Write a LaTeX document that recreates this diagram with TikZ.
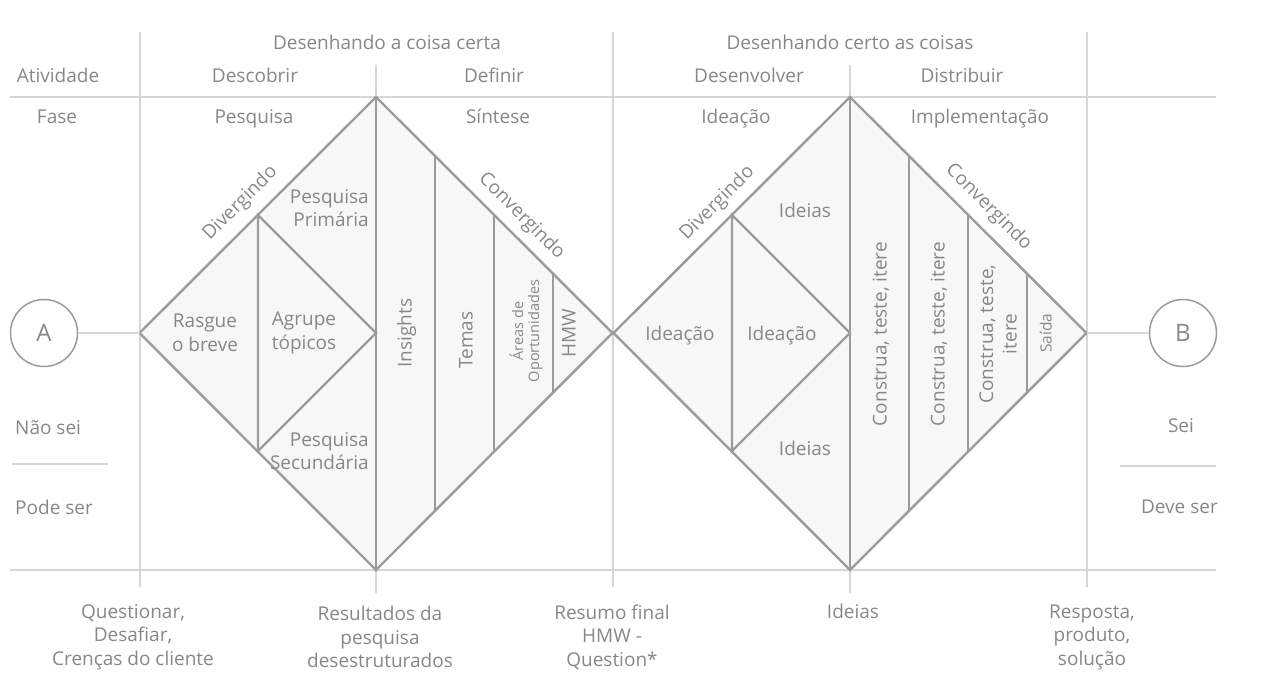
\documentclass[tikz,border=0pt]{standalone}
\usepackage{fontspec}
\setmainfont{Open Sans}
\usetikzlibrary{positioning}
\definecolor{txtgray}{HTML}{878787}
\definecolor{linegray}{HTML}{9B9B9B}
\definecolor{rulegray}{HTML}{D6D6D6}
\definecolor{fillgray}{HTML}{F7F7F7}
\begin{document}
\begin{tikzpicture}[x=1pt, y=-1pt,
			% Define styles for nodes
			every node/.style={text=txtgray, inner sep=0pt, align=center, anchor=mid, font=\fontsize{19}{23.5}\selectfont},
			block/.style={anchor=center},
			smalltext/.style={font=\fontsize{14.5}{16}\selectfont},
			endpoint/.style={circle, draw=linegray, line width=1.5pt, minimum size=67pt, anchor=center, font=\fontsize{24}{24}\selectfont},
			rule/.style={draw=rulegray, line width=1.4pt},
			outline/.style={draw=linegray, fill=fillgray, line width=2.4pt, line join=miter},
			splitline/.style={draw=linegray, line width=2.2pt},
			link/.style={draw=rulegray, line width=1.6pt}
		]
		\useasboundingbox (0,0) rectangle (1264,696);

		% Grid
		\draw[rule] (10,97) -- (1216,97);
		\draw[rule] (10,570) -- (1216,570);
		\foreach \x in {140,613,1087} \draw[rule] (\x,32) -- (\x,587);
		\foreach \x in {376,850} \draw[rule] (\x,65) -- (\x,593);
		\draw[rule] (12,464) -- (108,464);
		\draw[rule] (1120,466) -- (1216,466);

		% Diamonds
		\foreach \c/\n in {376/1,850/2} {
				\coordinate (w\n) at (\c-236.5,333);
				\coordinate (n\n) at (\c,97);
				\coordinate (e\n) at (\c+236.5,333);
				\coordinate (s\n) at (\c,570);
				\filldraw[outline] (w\n) -- (n\n) -- (e\n) -- (s\n) -- cycle;
				\draw[splitline] (\c-118,215) -- (\c,333) -- (\c-118,451) -- cycle;
				\draw[splitline] (n\n) -- (s\n);
				\foreach \k in {1,2,3}
				\draw[splitline] (\c+59*\k,97+59*\k) -- (\c+59*\k,570-59*\k);
			}

		% Header
		\node (certa) at (387,47) {Desenhando a coisa certa};
		\node (coisas) at (850,47) {Desenhando certo as coisas};
		\node (atividade) at (58,80) {Atividade};
		\node (descobrir) at (255,80) {Descobrir};
		\node (definir) at (494,80) {Definir};
		\node (desenvolver) at (749,80) {Desenvolver};
		\node (distribuir) at (962,80) {Distribuir};
		\node (fase) at (57,121) {Fase};
		\node (pesquisa) at (254,121) {Pesquisa};
		\node (sintese) at (498,121) {Síntese};
		\node (ideacao) at (736,121) {Ideação};
		\node (implementacao) at (980,121) {Implementação};

		% First diamond
		\node[rotate=45] (div1) at (242,205) {Divergindo};
		\node[rotate=-45] (conv1) at (520,218) {Convergindo};
		\node[anchor=east, align=right] (primaria) at (369,208) {Pesquisa\\Primária};
		\node[anchor=east, align=right] (secundaria) at (369,451) {Pesquisa\\Secundária};
		\node[block] (rasgue) at (205,333) {Rasgue\\o breve};
		\node[block] (agrupe) at (304,333) {Agrupe\\tópicos};
		\node[rotate=90] (insights) at (409,333) {Insights};
		\node[rotate=90] (temas) at (470,340) {Temas};
		\node[block, smalltext, rotate=90] (areas) at (526,331) {Áreas de\\Oportunidades};
		\node[rotate=90] (hmw) at (573,333) {HMW};

		% Second diamond
		\node[rotate=45] (div2) at (719,205) {Divergindo};
		\node[rotate=-45] (conv2) at (987,209) {Convergindo};
		\node (ideias1) at (805,215) {Ideias};
		\node (ideacao1) at (680,338) {Ideação};
		\node (ideacao2) at (782,338) {Ideação};
		\node (ideias2) at (805,453) {Ideias};
		\node[rotate=90] (construa1) at (884,334) {Construa, teste, itere};
		\node[rotate=90] (construa2) at (942,334) {Construa, teste, itere};
		\node[block, rotate=90] (construa3) at (998,334) {Construa, teste,\\itere};
		\node[smalltext, font=\fontsize{15.5}{16}\selectfont, rotate=90] (saida) at (1049,333) {Saída};

		% Ends
		\node[endpoint] (A) at (44,333) {A};
		\node[endpoint] (B) at (1183,333) {B};
		\draw[link] (A) -- (w1);
		\draw[link] (e2) -- (B);
		\node[anchor=west] (naosei) at (15,428) {Não sei};
		\node[anchor=west] (podeser) at (15,507) {Pode ser};
		\node (sei) at (1181,430) {Sei};
		\node[anchor=east] (deveser) at (1218,507) {Deve ser};

		% Results
		\node[block] (questionar) at (133,637) {Questionar,\\Desafiar,\\Crenças do cliente};
		\node[block] (resultados) at (380,637) {Resultados da\\pesquisa\\desestruturados};
		\node[block] (resumo) at (612,637) {Resumo final\\HMW -\\Question*};
		\node (ideias3) at (853,616) {Ideias};
		\node[block] (resposta) at (1092,637) {Resposta,\\produto,\\solução};
	\end{tikzpicture}
\end{document}
